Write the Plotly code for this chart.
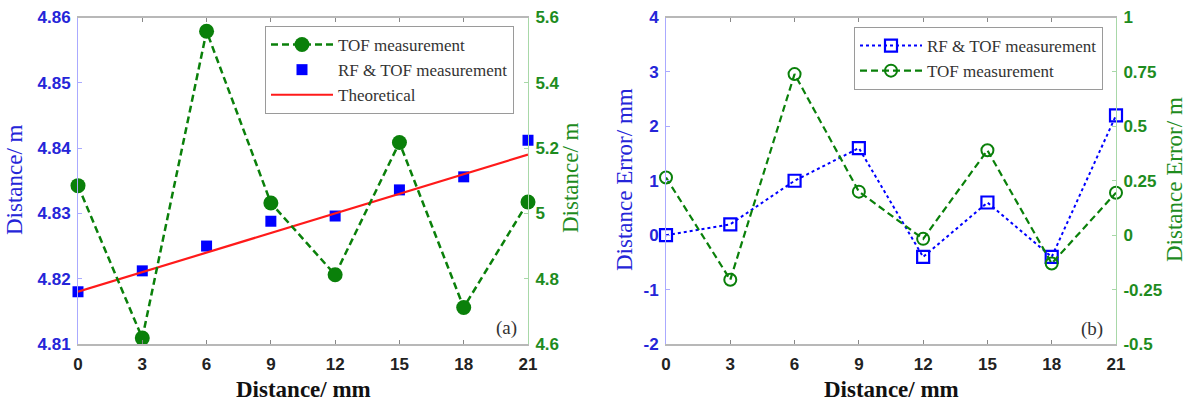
import plotly.graph_objects as go

# ---------------- data ----------------
dist = [0, 3, 6, 9, 12, 15, 18, 21]
rf_tof_dist = [4.818, 4.8212, 4.825, 4.8288, 4.8296, 4.8336, 4.8356, 4.8412]
tof_dist = [5.085, 4.618, 5.558, 5.032, 4.812, 5.217, 4.712, 5.035]
theory_dist = [4.818, 4.821, 4.824, 4.827, 4.830, 4.833, 4.836, 4.839]
rf_tof_err = [0.0, 0.2, 1.0, 1.6, -0.4, 0.6, -0.4, 2.2]
tof_err = [0.265, -0.205, 0.74, 0.2, -0.017, 0.39, -0.13, 0.195]

x_ticks = [0, 3, 6, 9, 12, 15, 18, 21]
ya_left_ticks = [4.81, 4.82, 4.83, 4.84, 4.85, 4.86]
ya_left_text = ["4.81", "4.82", "4.83", "4.84", "4.85", "4.86"]
ya_right_ticks = [4.6, 4.8, 5.0, 5.2, 5.4, 5.6]
ya_right_text = ["4.6", "4.8", "5", "5.2", "5.4", "5.6"]
yb_left_ticks = [-2, -1, 0, 1, 2, 3, 4]
yb_left_text = ["-2", "-1", "0", "1", "2", "3", "4"]
yb_right_ticks = [-0.5, -0.25, 0, 0.25, 0.5, 0.75, 1]
yb_right_text = ["-0.5", "-0.25", "0", "0.25", "0.5", "0.75", "1"]

# ---------------- style ----------------
W, H = 1188, 402
BLUE = "#0000ff"
BLUE_TXT = "#2525d8"
GREEN = "#0a800a"
GREEN_TXT = "#1e8c1e"
RED = "#ff1a1a"
SERIF = "Liberation Serif"
SANS = "Liberation Sans"

def px_x(v):
    return v / W

def px_y(v):
    return 1 - v / H

fig = go.Figure()

# ---- panel (a) ----
fig.add_trace(go.Scatter(
    x=dist, y=tof_dist, name="TOF measurement", mode="lines+markers",
    line=dict(color=GREEN, width=2.5, dash="7px,4px"),
    marker=dict(symbol="circle", size=15, color=GREEN),
    xaxis="x", yaxis="y2", legend="legend", cliponaxis=False,
))
fig.add_trace(go.Scatter(
    x=dist, y=rf_tof_dist, name="RF & TOF measurement", mode="markers",
    marker=dict(symbol="square", size=11, color=BLUE),
    xaxis="x", yaxis="y", legend="legend", cliponaxis=False,
))
fig.add_trace(go.Scatter(
    x=dist, y=theory_dist, name="Theoretical", mode="lines",
    line=dict(color=RED, width=2.2),
    xaxis="x", yaxis="y", legend="legend",
))

# ---- panel (b) ----
fig.add_trace(go.Scatter(
    x=dist, y=rf_tof_err, name="RF & TOF measurement", mode="lines+markers",
    line=dict(color=BLUE, width=2, dash="dot"),
    marker=dict(symbol="square-open", size=12, color=BLUE, line=dict(width=2.2, color=BLUE)),
    xaxis="x2", yaxis="y3", legend="legend2", cliponaxis=False,
))
fig.add_trace(go.Scatter(
    x=dist, y=tof_err, name="TOF measurement", mode="lines+markers",
    line=dict(color=GREEN, width=2.2, dash="7px,4px"),
    marker=dict(symbol="circle-open", size=12, color=GREEN, line=dict(width=2, color=GREEN)),
    xaxis="x2", yaxis="y4", legend="legend2", cliponaxis=False,
))

plot_top, plot_bot = 17.5, 344
ydom = [px_y(plot_bot), px_y(plot_top)]

tick_font_black = dict(family=SANS, size=17, color="#222222", weight="bold")
tick_font_blue = dict(family=SANS, size=17, color=BLUE_TXT, weight="bold")
tick_font_green = dict(family=SANS, size=17, color=GREEN_TXT, weight="bold")

def xaxis_cfg(domain, anchor):
    return dict(
        domain=domain, anchor=anchor, range=[0, 21],
        tickmode="array", tickvals=x_ticks, ticktext=[str(t) for t in x_ticks],
        showline=True, linecolor="#b8b8b8", linewidth=2, mirror="ticks",
        ticks="inside", ticklen=4, tickcolor="#888888", tickwidth=1,
        showgrid=False, zeroline=False, tickfont=tick_font_black,
        automargin=False, ticklabelstandoff=4,
    )

def yaxis_cfg(rng, vals, text, side, color_line, font, anchor, overlaying=None):
    d = dict(
        domain=ydom, anchor=anchor, range=rng, side=side,
        tickmode="array", tickvals=vals, ticktext=text,
        showline=True, linecolor=color_line, linewidth=1,
        ticks="inside", ticklen=4, tickcolor=color_line, tickwidth=1,
        showgrid=False, zeroline=False, tickfont=font, automargin=False,
        ticklabelstandoff=3,
    )
    if overlaying:
        d["overlaying"] = overlaying
    return d

ax_a = [px_x(78), px_x(528)]
ax_b = [px_x(666), px_x(1116)]

legend_common = dict(
    bgcolor="white", bordercolor="#9a9a9a", borderwidth=1,
    font=dict(family=SERIF, size=17, color="#333333"),
    xanchor="left", yanchor="top", tracegroupgap=0, itemwidth=62,
)

fig.update_layout(
    width=W, height=H,
    margin=dict(l=0, r=0, t=0, b=0),
    paper_bgcolor="white", plot_bgcolor="white",
    xaxis=xaxis_cfg(ax_a, "y"),
    yaxis=yaxis_cfg([4.81, 4.86], ya_left_ticks, ya_left_text, "left", "#aaaaff", tick_font_blue, "x"),
    yaxis2=yaxis_cfg([4.6, 5.6], ya_right_ticks, ya_right_text, "right", "#a8d8a8", tick_font_green, "x", overlaying="y"),
    xaxis2=xaxis_cfg(ax_b, "y3"),
    yaxis3=yaxis_cfg([-2, 4], yb_left_ticks, yb_left_text, "left", "#aaaaff", tick_font_blue, "x2"),
    yaxis4=yaxis_cfg([-0.5, 1], yb_right_ticks, yb_right_text, "right", "#a8d8a8", tick_font_green, "x2", overlaying="y3"),
    legend=dict(x=px_x(265), y=px_y(26), **legend_common),
    legend2=dict(x=px_x(854), y=px_y(27), **legend_common),
    showlegend=True,
)

def title_ann(text, x, y, color, angle=0, size=23, bold=False):
    fig.add_annotation(
        text=f"<b>{text}</b>" if bold else text,
        x=px_x(x), y=px_y(y), xref="paper", yref="paper",
        xanchor="center", yanchor="middle", textangle=angle, showarrow=False,
        font=dict(family=SERIF, size=size, color=color),
    )

title_ann("Distance/ mm", 303, 389, "#111111", bold=True, size=23)
title_ann("Distance/ mm", 891, 389, "#111111", bold=True, size=23)
title_ann("Distance/ m", 15, 180, BLUE_TXT, angle=-90)
title_ann("Distance/ m", 570, 178, GREEN_TXT, angle=-90)
title_ann("Distance Error/ mm", 625, 180, BLUE_TXT, angle=-90)
title_ann("Distance Error/ m", 1175, 180, GREEN_TXT, angle=-90)
title_ann("(a)", 506, 328, "#333333", size=19)
title_ann("(b)", 1092, 329, "#333333", size=19)

fig.write_html(
    "out.html",
    config={"displayModeBar": False},
    post_script="document.body.style.margin='0';document.body.style.padding='0';",
)
